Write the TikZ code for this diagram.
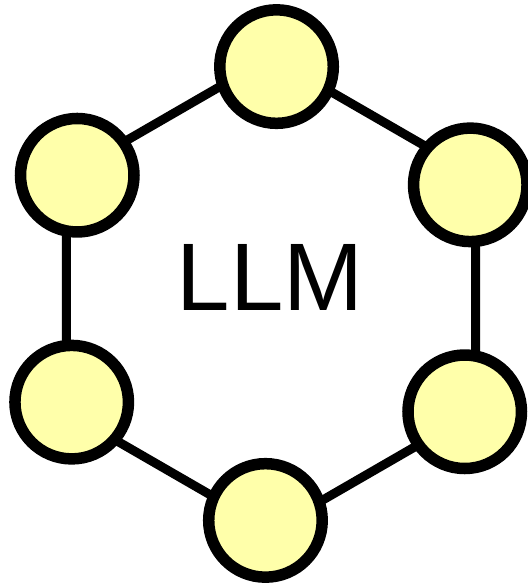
\documentclass[tikz,border=0pt]{standalone}
\usepackage{fontspec}
\setmainfont{Liberation Sans}
\usetikzlibrary{positioning}
\definecolor{agentYel}{HTML}{FFFFAA}

\begin{document}
\begin{tikzpicture}[x=1pt, y=1pt,
  agent/.style={circle, draw=black, line width=11.5pt, fill=agentYel,
    minimum size=113.5pt, inner sep=0pt},
  ring/.style={draw=black, line width=9pt, line join=round}]
\useasboundingbox (-271,-291.5) rectangle (256,293.5);
% corners of the ring
\foreach \k in {1,...,6}{
  \pgfmathsetmacro{\ang}{150-60*\k}
  \coordinate (v\k) at (\ang:236.4);
}
\draw[ring] (v1) -- (v2) -- (v3) -- (v4) -- (v5) -- (v6) -- cycle;
% agents, slightly turned
\foreach \k in {1,...,6}{
  \pgfmathsetmacro{\ang}{148.6-60*\k}
  \node[agent] (a\k) at (\ang:227) {};
}
\node[font=\fontsize{96}{100}\selectfont] (llm) at (-1,16) {LLM};
\end{tikzpicture}
\end{document}
